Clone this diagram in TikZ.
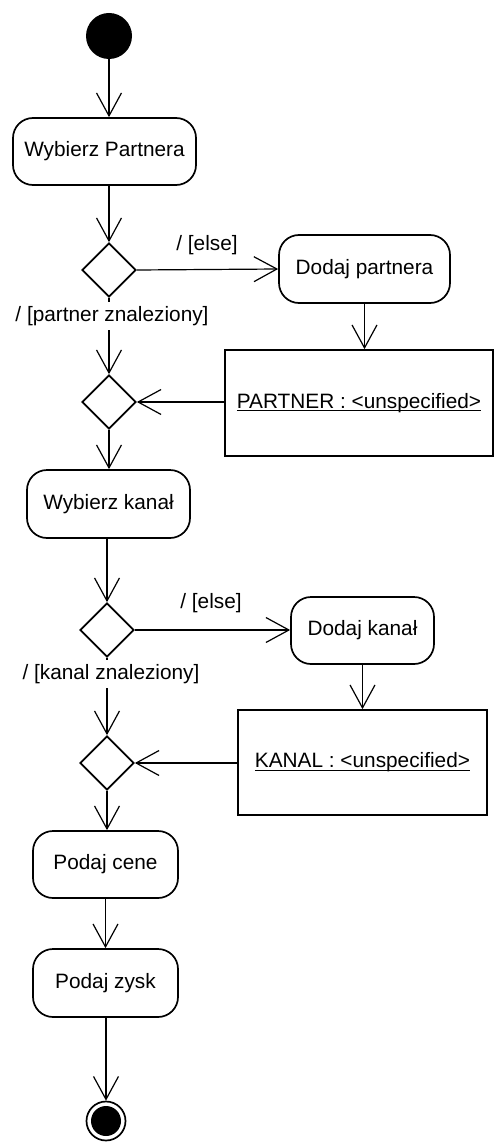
\documentclass[tikz,border=0pt]{standalone}
\usepackage{fontspec}
\setmainfont{Liberation Sans}
\usetikzlibrary{arrows.meta,shapes.geometric,calc}
\newcommand\myuline[1]{\setbox0\hbox{#1}\rlap{\rule[-3pt]{\wd0}{1.3pt}}\box0}
\begin{document}
\begin{tikzpicture}[x=1pt,y=-1pt,
  font=\fontsize{20.8}{24}\selectfont,
  conn/.style={line width=1.2pt,-{Straight Barb[length=23pt,width=25pt,line width=1.2pt]}},
  action/.style={draw,line width=1.7pt,rounded corners=20pt,inner sep=0pt,align=center},
  decision/.style={draw,diamond,line width=1.7pt,minimum width=54pt,minimum height=54pt,inner sep=0pt,aspect=1},
  objbox/.style={draw,line width=1.7pt,inner sep=0pt,align=center},
  guard/.style={inner sep=1pt},
  guardw/.style={fill=white,inner sep=1pt}]
\useasboundingbox (0,0) rectangle (495,1142);
\node[circle,fill=black,minimum size=46pt,inner sep=0pt] (start) at (109,36) {};
\node[action,minimum width=183pt,minimum height=67pt] (wp) at (104.5,151.5) {Wybierz Partnera};
\node[decision] (d1) at (109,270) {};
\node[action,minimum width=171pt,minimum height=68pt] (dp) at (364.5,269) {Dodaj partnera};
\node[decision] (d2) at (109,402) {};
\node[objbox,minimum width=268pt,minimum height=106pt] (pb) at (359,403) {\myuline{PARTNER : <unspecified>}};
\node[action,minimum width=163pt,minimum height=68pt] (wk) at (108.5,504) {Wybierz kanał};
\node[decision] (d3) at (107,630) {};
\node[action,minimum width=143pt,minimum height=67pt] (dk) at (362.5,630.5) {Dodaj kanał};
\node[decision] (d4) at (107,763) {};
\node[objbox,minimum width=249pt,minimum height=105pt] (kb) at (362.5,762.5) {\myuline{KANAL : <unspecified>}};
\node[action,minimum width=145pt,minimum height=67pt] (pc) at (105.5,864.5) {Podaj cene};
\node[action,minimum width=145pt,minimum height=68pt] (pz) at (105.5,983) {Podaj zysk};
\node[circle,draw,line width=1.7pt,minimum size=39pt,inner sep=0pt] (end) at (106,1121) {};
\node[circle,fill=black,minimum size=30pt,inner sep=0pt] (endin) at (end.center) {};

\draw[conn] (start.south) -- (start.south |- wp.north);
\draw[conn] (wp.south -| d1.north) -- (d1.north);
\draw[conn] (d1.east) -- (dp.west);
\draw[conn] (d1.south) -- (d2.north);
\draw[conn] (dp.south) -- (dp.south |- pb.north);
\draw[conn] (pb.west |- d2.east) -- (d2.east);
\draw[conn] (d2.south) -- (d2.south |- wk.north);
\draw[conn] (wk.south -| d3.north) -- (d3.north);
\draw[conn] (d3.east) -- (d3.east -| dk.west);
\draw[conn] (d3.south) -- (d4.north);
\draw[conn] (dk.south) -- (dk.south |- kb.north);
\draw[conn] (kb.west |- d4.east) -- (d4.east);
\draw[conn] (d4.south) -- (d4.south |- pc.north);
\draw[conn] (pc.south) -- (pz.north);
\draw[conn] (pz.south -| end.north) -- (end.north);

\node[guard] (g1) at (207,245) {/ [else]};
\node[guardw,inner ysep=4pt] (g2) at (112,316) {/ [partner znaleziony]};
\node[guard] (g3) at (211,603) {/ [else]};
\node[guardw,inner ysep=4pt] (g4) at (111,674) {/ [kanal znaleziony]};
\end{tikzpicture}
\end{document}
